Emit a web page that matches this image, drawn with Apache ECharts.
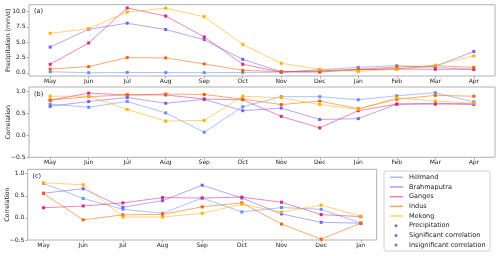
<!DOCTYPE html>
<html><head><meta charset="utf-8">
<script src="https://cdn.jsdelivr.net/npm/echarts@6/dist/echarts.min.js"></script>
<style>html,body{margin:0;padding:0;background:#fff}#c{width:500px;height:256px}</style>
</head><body><div id="c"></div>
<script>
const months = ['May','Jun','Jul','Aug','Sep','Oct','Nov','Dec','Jan','Feb','Mar','Apr'];
const monthsC = ['May','Jun','Jul','Aug','Sep','Oct','Nov','Dec','Jan'];
const basins = ['Helmand','Brahmaputra','Ganges','Indus','Mekong'];
const markerNames = ['Precipitation','Significant correlation','Insignificant correlation'];
const colors = ['#648FFF','#785EF0','#DC267F','#FE6100','#FFB000'];
const precipTicks = [0, 2.5, 5, 7.5, 10];
const corrTicks = [-0.5, 0, 0.5, 1.0];

// (a) precipitation, mm/d
const helmandP     = [0.17,0.0,0.05,0.03,0.02,0.05,0.1,0.5,0.89,1.16,0.9,0.5];
const brahmaputraP = [4.2,7.12,8.1,7.07,5.41,2.2,0.17,0.28,0.56,0.66,1.06,3.48];
const gangesP      = [1.39,4.87,10.6,9.27,5.86,1.39,0.12,0.12,0.5,0.61,0.56,0.6];
const indusP       = [0.61,1.0,2.48,2.43,1.44,0.4,0.17,0.28,0.56,0.94,1.16,0.89];
const mekongP      = [6.46,7.2,9.93,10.55,9.17,4.64,1.55,0.56,0.23,0.56,1.22,2.76];
// (b) correlation
const helmandB     = [0.71,0.64,0.77,0.51,0.07,0.65,0.88,0.88,0.81,0.90,0.97,0.76];
const brahmaputraB = [0.66,0.77,0.86,0.73,0.82,0.56,0.62,0.36,0.38,0.71,0.73,0.70];
const gangesB      = [0.80,0.96,0.92,0.92,0.825,0.81,0.43,0.17,0.56,0.71,0.71,0.72];
const indusB       = [0.80,0.88,0.92,0.94,0.93,0.825,0.70,0.78,0.605,0.82,0.91,0.89];
const mekongB      = [0.89,0.89,0.59,0.325,0.34,0.89,0.855,0.70,0.59,0.855,0.78,0.73];
// (c) correlation
const helmandC     = [0.78,0.44,0.195,0.105,0.45,0.135,0.235,0.195,-0.12];
const brahmaputraC = [0.56,0.66,0.24,0.39,0.74,0.45,0.09,-0.10,-0.12];
const gangesC      = [0.23,0.27,0.34,0.46,0.45,0.47,0.355,0.075,0.03];
const indusC       = [0.55,-0.045,0.07,0.08,0.25,0.34,-0.14,-0.48,-0.12];
const mekongC      = [0.795,0.75,0.02,0.02,0.105,0.31,0.13,0.29,0.04];

const panelA = [helmandP, brahmaputraP, gangesP, indusP, mekongP];
const panelB = [helmandB, brahmaputraB, gangesB, indusB, mekongB];
const panelC = [helmandC, brahmaputraC, gangesC, indusC, mekongC];

const FONT = 'DejaVu Sans';
const TXT = '#222';
const AX = '#b0b0b0';

function hexA(h, a){
  const r=parseInt(h.slice(1,3),16), g=parseInt(h.slice(3,5),16), b=parseInt(h.slice(5,7),16);
  return `rgba(${r},${g},${b},${a})`;
}

function xAxisFor(gi, cats){
  const n = cats.length;
  const m = (n-1)*0.05;
  const idx = cats.map((c,i)=>i);
  return {
    type:'value', gridIndex:gi, position:'bottom', min:-m, max:(n-1)+m,
    axisLine:{show:false, onZero:false}, splitLine:{show:false},
    axisTick:{show:true, inside:false, length:2.5, lineStyle:{color:AX}, customValues: idx},
    axisLabel:{show:true, inside:false, fontFamily:FONT, fontSize:6, color:TXT, margin:2,
      align:'center', verticalAlign:'top',
      customValues: idx, formatter:v=>cats[Math.round(v)]}
  };
}
function yAxisFor(gi, min, max, ticks, name, gap){
  return {
    type:'value', gridIndex:gi, position:'left', min:min, max:max,
    name:name, nameLocation:'middle', nameGap:gap, nameMoveOverlap:false,
    nameTextStyle:{fontFamily:FONT, fontSize:6.2, color:TXT},
    axisLine:{show:false, onZero:false}, splitLine:{show:false},
    axisTick:{show:true, inside:false, length:2.5, lineStyle:{color:AX}, customValues:ticks},
    axisLabel:{show:true, inside:false, fontFamily:FONT, fontSize:6, color:TXT, margin:3.5,
      align:'right', verticalAlign:'middle',
      customValues:ticks, formatter:v => (v < 0 ? '\u2212' + Math.abs(v).toFixed(1) : v.toFixed(1))}
  };
}

const series = [];
[panelA, panelB, panelC].forEach((panel, gi) => {
  panel.forEach((vals, k) => {
    series.push({
      type:'line', name:basins[k], xAxisIndex:gi, yAxisIndex:gi,
      data: vals.map((v,i)=>[i,v]),
      symbol:'rect', symbolSize:3, showSymbol:true,
      lineStyle:{color:hexA(colors[k],0.55), width:1},
      itemStyle:{color:colors[k]},
      emphasis:{disabled:true}, animation:false, z:2+k
    });
  });
});
markerNames.forEach(n => {
  series.push({type:'scatter', name:n, xAxisIndex:0, yAxisIndex:0, data:[],
    itemStyle:{color:'#3a5fcd'}, animation:false});
});

const rowH = 9.68;
const gridBase = {show:true, borderColor:AX, borderWidth:1, backgroundColor:'transparent', containLabel:false, outerBoundsMode:'none'};
const option = {
  animation:false,
  grid:[
    Object.assign({left:29, top:4.7, width:466, height:71.3}, gridBase),
    Object.assign({left:29, top:87, width:466, height:70.3}, gridBase),
    Object.assign({left:27.7, top:169.3, width:349, height:70.7}, gridBase)
  ],
  xAxis:[xAxisFor(0, months), xAxisFor(1, months), xAxisFor(2, monthsC)],
  yAxis:[
    yAxisFor(0, -0.53, 11.13, precipTicks, 'Precipitation (mm/d)', 18),
    yAxisFor(1, -0.5, 1.1, corrTicks, 'Correlation', 18),
    yAxisFor(2, -0.5, 1.1, corrTicks, 'Correlation', 17)
  ],
  legend:[
    {
      show:true, orient:'vertical', left:390, top:177.3 - rowH/2, padding:0,
      itemWidth:13, itemHeight:1.5, itemGap:0, icon:'rect',
      textStyle:{fontFamily:FONT, fontSize:6.5, color:TXT, lineHeight:rowH, padding:[0,0,0,1]},
      data: basins.map((b,k)=>({name:b, itemStyle:{color:hexA(colors[k],0.6)}})),
      selectedMode:false
    },
    {
      show:true, orient:'vertical', left:394.5, top:177.3 + 5*rowH - rowH/2, padding:0,
      itemWidth:3, itemHeight:3, itemGap:0, icon:'circle',
      textStyle:{fontFamily:FONT, fontSize:6.5, color:TXT, lineHeight:rowH, padding:[0,0,0,6.5]},
      data: markerNames, selectedMode:false
    }
  ],
  graphic:[
    {type:'rect', shape:{x:384, y:171, width:106, height:80, r:2}, style:{fill:'#fff', stroke:'#d0d0d0', lineWidth:1}, z:-1, silent:true},
    {type:'text', x:34, y:11.5, style:{text:'(a)', font:'6.5px "DejaVu Sans"', fill:TXT, verticalAlign:'middle'}},
    {type:'text', x:34, y:94.5, style:{text:'(b)', font:'6.5px "DejaVu Sans"', fill:TXT, verticalAlign:'middle'}},
    {type:'text', x:32.5, y:176.5, style:{text:'(c)', font:'6.5px "DejaVu Sans"', fill:TXT, verticalAlign:'middle'}}
  ],
  series: series
};

const chart = echarts.init(document.getElementById('c'), null, {renderer:'canvas', width:500, height:256});
chart.setOption(option);
</script>
</body></html>
